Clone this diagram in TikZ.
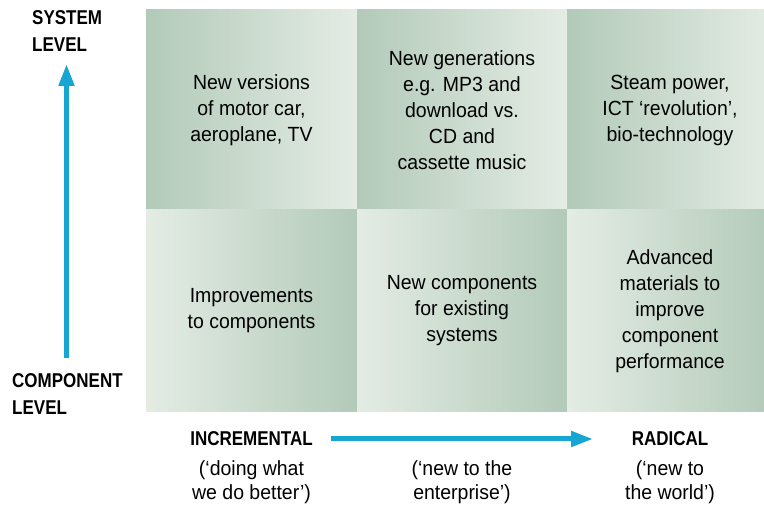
\documentclass[tikz,border=0pt]{standalone}
\usepackage{fontspec}
\setmainfont[FakeStretch=0.95]{Liberation Sans}
\newfontfamily\labelfont[FakeStretch=0.85]{Liberation Sans Bold}
\usetikzlibrary{arrows.meta}
\definecolor{cellDark}{RGB}{178,202,185}
\definecolor{cellLight}{RGB}{228,236,228}
\definecolor{arrowBlue}{RGB}{23,165,211}

\begin{document}
\begin{tikzpicture}[x=1pt,y=-1pt]
		\tikzset{cell/.style = {rectangle, minimum width=211pt, minimum height=200pt, inner sep=0pt, align=center, font=\fontsize{20.5}{26}\selectfont}}
		\tikzset{darkleft/.style = {left color=cellDark, right color=cellLight}}
		\tikzset{darkright/.style = {left color=cellLight, right color=cellDark}}
		\tikzset{axislabel/.style = {align=left, inner sep=0pt, font=\labelfont\fontsize{20}{26.5}\selectfont}}
		\tikzset{note/.style = {align=center, inner sep=0pt, font=\fontsize{20.5}{24}\selectfont}}
		\tikzset{axis/.style = {draw=arrowBlue, line width=5pt, -{Triangle[length=22pt,width=15pt]}}}
		\useasboundingbox (0,0) rectangle (764,510);
		%cells
		\node[cell, darkleft] (sysinc) at (251.5, 110) {New versions\\of motor car,\\aeroplane, TV};
		\node[cell, darkleft, minimum width=210pt] (sysnew) at (462, 110) {New generations\\e.g. MP3 and\\download vs.\\CD and\\cassette music};
		\node[cell, darkleft, minimum width=206pt] (sysrad) at (670, 110) {Steam power,\\ICT `revolution',\\bio-technology};
		\node[cell, darkright, minimum height=202pt] (compinc) at (251.5, 311) {Improvements\\to components};
		\node[cell, darkright, minimum width=210pt, minimum height=202pt] (compnew) at (462, 311) {New components\\for existing\\systems};
		\node[cell, darkright, minimum width=206pt, minimum height=202pt] (comprad) at (670, 311) {Advanced\\materials to\\improve\\component\\performance};
		%axis labels
		\node[axislabel, anchor=west] (syslevel) at (32, 31) {SYSTEM\\LEVEL};
		\node[axislabel, anchor=west] (complevel) at (12, 394) {COMPONENT\\LEVEL};
		\node[axislabel] (incremental) at (251.5, 439) {INCREMENTAL};
		\node[axislabel] (radical) at (670, 439) {RADICAL};
		\node[note] (incnote) at (251.5, 482) {(`doing what\\we do better')};
		\node[note] (entnote) at (462, 482) {(`new to the\\enterprise')};
		\node[note] (radnote) at (670, 482) {(`new to\\the world')};
		%arrows
		\coordinate (vstart) at (66.5, 358);
		\coordinate (vend) at (66.5, 64);
		\coordinate (hstart) at (331, 439);
		\coordinate (hend) at (593, 439);
		\draw[axis] (vstart) to (vend);
		\draw[axis] (hstart) to (hend);
\end{tikzpicture}
\end{document}
